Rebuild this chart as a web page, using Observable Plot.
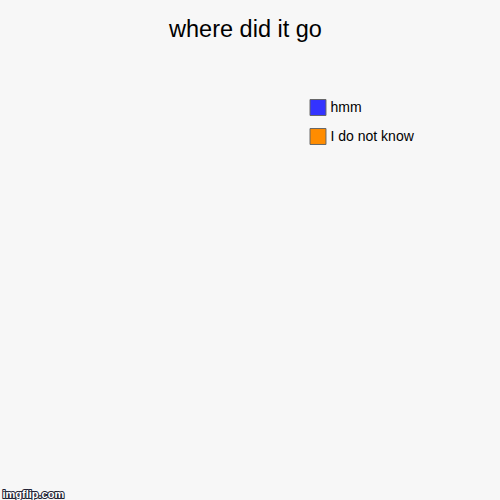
<!DOCTYPE html>
<html>
<head>
<meta charset="utf-8">
<script src="https://cdn.jsdelivr.net/npm/d3@7"></script>
<script src="https://cdn.jsdelivr.net/npm/@observablehq/plot@0.6"></script>
<style>
  html, body { margin: 0; padding: 0; background: #f7f7f7; }
  #chart svg { display: block; }
</style>
</head>
<body>
<div id="chart"></div>
<script>
const title = "where did it go";
const categories = ["hmm", "I do not know"];
const values = [0, 0];
const colors = ["#3333ff", "#ff8c00"];
const watermark = "imgflip.com";

const rows = categories.map((c, i) => ({category: c, value: values[i]}));
const total = d3.sum(values);

// pie slices (nothing is drawn when every value is zero)
const pieMark = (index, scales, channels, dims) => {
  const g = d3.create("svg:g");
  if (total > 0) {
    const arcs = d3.pie().sort(null).value(d => d.value)(rows);
    const arc = d3.arc().innerRadius(0).outerRadius(150);
    g.attr("transform", `translate(${dims.width / 2 - 50},${dims.height / 2 + 40})`)
      .selectAll("path").data(arcs).join("path")
      .attr("d", arc)
      .attr("fill", d => scales.color(d.data.category))
      .attr("stroke", "#666");
  }
  return g.node();
};

const chart = Plot.plot({
  width: 500,
  height: 500,
  margin: 0,
  style: {background: "#f7f7f7", fontFamily: "Liberation Sans, Arial, sans-serif"},
  x: {domain: [0, 500], range: [0, 500], axis: null},
  y: {type: "point", domain: categories, range: [107, 136], padding: 0, axis: null},
  color: {domain: categories, range: colors},
  marks: [
    pieMark,
    Plot.text([title], {frameAnchor: "top", dy: 20, text: d => d, fontSize: 23.5, fill: "#000", dx: -5}),
    Plot.dot(rows, {x: () => 317.5, y: "category", symbol: "square", r: 9, fill: "category", stroke: "#666", strokeWidth: 1}),
    Plot.text(rows, {x: () => 330, y: "category", text: "category", textAnchor: "start", fontSize: 14, fill: "#000"}),
    Plot.text([watermark], {frameAnchor: "bottom-left", dx: 2, dy: -3, text: d => d, fontSize: 11, fontWeight: "bold", fill: "#fff", stroke: "#223", strokeWidth: 2, paintOrder: "stroke"})
  ]
});
document.getElementById("chart").append(chart);
</script>
</body>
</html>
